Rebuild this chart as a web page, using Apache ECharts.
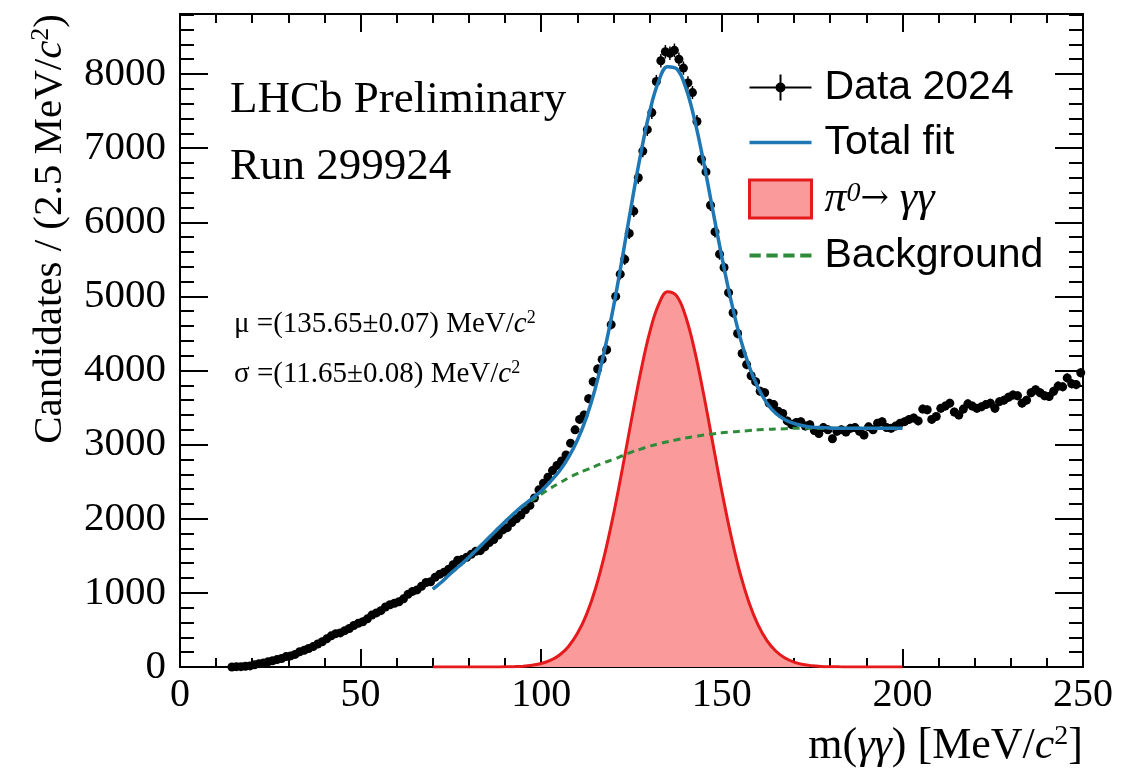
<!DOCTYPE html>
<html>
<head>
<meta charset="utf-8">
<script src="https://cdn.jsdelivr.net/npm/echarts@6/dist/echarts.min.js"></script>
<style>
    html, body { margin: 0; padding: 0; background: #fff; }
    #chart { width: 1132px; height: 770px; }
</style>
</head>
<body>
<div id="chart"></div>
<script>
// histogram: first bin centre and bin width (MeV/c^2)
var binStart = 14.375;
var binWidth = 1.25;
var counts = [
    0, 5, 5, 10, 15, 30, 45, 55, 70, 85,
    100, 115, 140, 150, 170, 205, 225, 250, 275, 310,
    340, 380, 420, 450, 460, 490, 520, 560, 590, 610,
    650, 700, 730, 760, 810, 840, 860, 880, 920, 980,
    1020, 1040, 1090, 1140, 1150, 1210, 1250, 1280, 1320, 1380,
    1440, 1450, 1480, 1520, 1560, 1570, 1620, 1680, 1720, 1780,
    1850, 1880, 1950, 2000, 2050, 2120, 2180, 2280, 2390, 2480,
    2560, 2650, 2720, 2780, 2860, 3020, 3200, 3340, 3400, 3620,
    3850, 4020, 4150, 4280, 4620, 5000, 5300, 5500, 5850, 6150,
    6600, 6960, 7250, 7480, 7900, 8180, 8300, 8280, 8320, 8200,
    8080, 7880, 7750, 7360, 6850, 6680, 6230, 5870, 5570, 5390,
    5050, 4780, 4500, 4230, 4080, 3930, 3850, 3720, 3700, 3560,
    3540, 3450, 3420, 3320, 3270, 3300, 3310, 3250, 3270, 3190,
    3150, 3230, 3200, 3080, 3180, 3200, 3170, 3220, 3230, 3180,
    3130, 3240, 3200, 3290, 3310, 3230, 3220, 3250, 3290, 3310,
    3340, 3360, 3320, 3480, 3470, 3340, 3380, 3490, 3520, 3560,
    3440, 3400, 3480, 3550, 3520, 3490, 3510, 3540, 3560, 3490,
    3580, 3600, 3640, 3670, 3660, 3560, 3600, 3700, 3740, 3700,
    3660, 3650, 3720, 3790, 3780, 3900, 3820, 3810, 3970
];

// fit curves sampled every 2.5 MeV/c^2 from 70 to 200
var fitStart = 70;
var fitStep = 2.5;
var totalFit = [
    1050, 1150, 1265, 1370, 1480, 1600, 1720, 1840, 1960, 2075,
    2180, 2275, 2375, 2500, 2640, 2825, 3060, 3365, 3765, 4265,
    4855, 5530, 6240, 6910, 7485, 7900, 8100, 8070, 7820, 7375,
    6805, 6165, 5535, 4955, 4455, 4065, 3770, 3560, 3420, 3335,
    3285, 3255, 3235, 3230, 3225, 3220, 3220, 3220, 3220, 3220,
    3220, 3220, 3220
];
var signalFit = [
    0, 0, 0, 0, 0, 0, 0, 1, 2, 5,
    11, 24, 47, 89, 159, 274, 451, 704, 1053, 1506,
    2057, 2681, 3338, 3968, 4507, 4888, 5062, 5006, 4729, 4266,
    3673, 3022, 2373, 1783, 1276, 874, 571, 356, 212, 121,
    66, 34, 17, 8, 4, 2, 1, 0, 0, 0,
    0, 0, 0
];
var backgroundFit = [
    1050, 1150, 1265, 1370, 1480, 1600, 1720, 1840, 1960, 2070,
    2170, 2250, 2330, 2410, 2480, 2550, 2610, 2660, 2710, 2760,
    2800, 2850, 2900, 2940, 2980, 3010, 3040, 3065, 3090, 3110,
    3130, 3145, 3160, 3170, 3180, 3190, 3200, 3205, 3210, 3215,
    3220, 3220, 3220, 3220, 3220, 3220, 3220, 3220, 3220, 3220,
    3220, 3220, 3220
];

// axes
var xMin = 0, xMax = 250, xStep = 50;
var yMin = 0, yMax = 8810, yStep = 1000, yMinorStep = 200;

var legendNames = ["Data 2024", "Total fit", "π0→ γγ", "Background"];
var fitText = [
    "{n|μ =(135.65±0.07) MeV/}{i|c}{s|2}",
    "{n|σ =(11.65±0.08) MeV/}{i|c}{s|2}",
];

var serif = "Liberation Serif";
var sans = "Liberation Sans";

var dataPts = counts.map(function (c, i) {
    return [binStart + i * binWidth, c];
});
var errPts = counts.map(function (c, i) {
    return [binStart + i * binWidth, c, c - Math.sqrt(c), c + Math.sqrt(c)];
});
function curve(vals) {
    return vals.map(function (v, i) {
        return [fitStart + i * fitStep, v];
    });
}

var richSmall = {
    n: { fontFamily: serif, fontSize: 29, color: "#000" },
    i: { fontFamily: serif, fontSize: 29, fontStyle: "italic", color: "#000" },
    s: { fontFamily: serif, fontSize: 18, color: "#000", verticalAlign: "top", lineHeight: 18 },
};
var richBig = {
    n: { fontFamily: serif, fontSize: 41, color: "#000", lineHeight: 44 },
    i: { fontFamily: serif, fontSize: 41, fontStyle: "italic", color: "#000", lineHeight: 44 },
    s: { fontFamily: serif, fontSize: 26, color: "#000", verticalAlign: "top", lineHeight: 26 },
};
var richX = {
    n: { fontFamily: serif, fontSize: 44, color: "#000", lineHeight: 46 },
    i: { fontFamily: serif, fontSize: 44, fontStyle: "italic", color: "#000", lineHeight: 46 },
    s: { fontFamily: serif, fontSize: 28, color: "#000", verticalAlign: "top", lineHeight: 28 },
};

function renderErr(params, api) {
    var x = api.value(0);
    var y = api.value(1);
    var lo = api.coord([x, api.value(2)]);
    var hi = api.coord([x, api.value(3)]);
    var l = api.coord([x - binWidth / 2, y]);
    var r = api.coord([x + binWidth / 2, y]);
    return {
        type: "group",
        children: [
            { type: "line", shape: { x1: lo[0], y1: lo[1], x2: hi[0], y2: hi[1] }, style: { stroke: "#000", lineWidth: 1.5 } },
            { type: "line", shape: { x1: l[0], y1: l[1], x2: r[0], y2: r[1] }, style: { stroke: "#000", lineWidth: 1.5 } },
        ],
    };
}

function xAxisOpt(pos, labels) {
    return {
        type: "value",
        position: pos,
        min: xMin,
        max: xMax,
        interval: xStep,
        axisLine: { show: true, onZero: false, lineStyle: { color: "#000", width: 2 } },
        axisTick: { show: true, inside: true, length: 18, lineStyle: { color: "#000", width: 2 } },
        minorTick: { show: true, splitNumber: 5, length: 9, lineStyle: { color: "#000", width: 2 } },
        axisLabel: { show: labels, color: "#000", fontFamily: serif, fontSize: 40, margin: 8,
            formatter: function (v) { return String(v); } },
        splitLine: { show: false },
    };
}

function yAxisOpt(pos, step, len, labels) {
    return {
        type: "value",
        position: pos,
        min: yMin,
        max: yMax,
        interval: step,
        axisLine: { show: true, onZero: false, lineStyle: { color: "#000", width: 2 } },
        axisTick: { show: true, inside: true, length: len, lineStyle: { color: "#000", width: 2 } },
        axisLabel: { show: labels, color: "#000", fontFamily: serif, fontSize: 41, margin: 14, showMaxLabel: false,
            formatter: function (v) { return String(v); } },
        splitLine: { show: false },
    };
}

var xMain = xAxisOpt("bottom", true);
xMain.name = "{n|m(}{i|γγ}{n|) [MeV/}{i|c}{s|2}{n|]}";
xMain.nameLocation = "end";
xMain.nameGap = 0;
xMain.nameTextStyle = { align: "right", verticalAlign: "top", padding: [56, 0, 0, 0], rich: richX };

var option = {
    animation: false,
    grid: { left: 180, right: 49, top: 14, bottom: 103 },
    xAxis: [xMain, xAxisOpt("top", false)],
    yAxis: [
        yAxisOpt("left", yStep, 28, true),
        yAxisOpt("left", yMinorStep, 14, false),
        yAxisOpt("right", yStep, 28, false),
        yAxisOpt("right", yMinorStep, 14, false),
    ],
    legend: {
        orient: "vertical",
        left: 743,
        top: 62,
        itemWidth: 62,
        itemHeight: 38,
        itemGap: 14,
        selectedMode: false,
        textStyle: { fontFamily: sans, fontSize: 41, color: "#000", lineHeight: 38, padding: [0, 0, 0, 8],
            rich: {
                it: { fontFamily: serif, fontSize: 44, fontStyle: "italic", color: "#000", lineHeight: 38 },
                sup: { fontFamily: serif, fontSize: 28, fontStyle: "italic", color: "#000", verticalAlign: "top", lineHeight: 22 },
                ar: { fontFamily: "DejaVu Serif", fontSize: 34, color: "#000", lineHeight: 38 },
            },
        },
        formatter: function (name) {
            if (name === legendNames[2]) return "{it|π}{sup|0}{ar|→ }{it|γγ}";
            return name;
        },
        data: [
            { name: legendNames[0], icon: "path://M0,12H62V14H0Z M30,0H32V26H30Z M36,13A5,5,0,1,1,26,13A5,5,0,1,1,36,13Z",
              itemStyle: { color: "#000", borderWidth: 0, opacity: 1 } },
            { name: legendNames[1], icon: "path://M0,0H62V3.5H0Z", itemStyle: { color: "#1f77b4", borderWidth: 0 } },
            { name: legendNames[2], icon: "path://M0,0H62V38H0Z", itemStyle: { color: "#fa9a9a", borderColor: "#e41a1c", borderWidth: 3 } },
            { name: legendNames[3], icon: "path://M0,0H10V3.5H0Z M15,0H25V3.5H15Z M30,0H40V3.5H30Z M45,0H55V3.5H45Z",
              itemStyle: { color: "#2e8b3a", borderWidth: 0 } },
        ],
    },
    graphic: [
        { type: "text", x: 230, y: 100, style: { text: "LHCb Preliminary", fontFamily: serif, fontSize: 45, fill: "#000", verticalAlign: "middle" } },
        { type: "text", x: 230, y: 167, style: { text: "Run 299924", fontFamily: serif, fontSize: 45, fill: "#000", verticalAlign: "middle" } },
        { type: "text", x: 234, y: 324, style: { text: fitText[0], rich: richSmall, verticalAlign: "middle" } },
        { type: "text", x: 234, y: 374, style: { text: fitText[1], rich: richSmall, verticalAlign: "middle" } },
        { type: "text", x: 50, y: 14, rotation: Math.PI / 2,
          style: { text: "{n|Candidates / (2.5 MeV/}{i|c}{s|2}{n|)}", rich: richBig, align: "right", verticalAlign: "middle" } },
    ],
    series: [
        {
            name: legendNames[2],
            type: "line",
            data: curve(signalFit),
            smooth: 0.4,
            symbol: "none",
            lineStyle: { color: "#e41a1c", width: 3 },
            itemStyle: { color: "#e41a1c" },
            areaStyle: { color: "#fa9a9a", opacity: 1 },
            z: 2,
        },
        {
            type: "custom",
            renderItem: renderErr,
            data: errPts,
            silent: true,
            z: 3,
        },
        {
            name: legendNames[0],
            type: "scatter",
            data: dataPts,
            symbol: "circle",
            symbolSize: 9,
            itemStyle: { color: "#000", opacity: 1 },
            z: 3,
        },
        {
            name: legendNames[3],
            type: "line",
            data: curve(backgroundFit),
            smooth: 0.4,
            symbol: "none",
            lineStyle: { color: "#2e8b3a", width: 3, type: [7, 5] },
            itemStyle: { color: "#2e8b3a" },
            z: 4,
        },
        {
            name: legendNames[1],
            type: "line",
            data: curve(totalFit),
            smooth: 0.4,
            symbol: "none",
            lineStyle: { color: "#1f77b4", width: 3.5 },
            itemStyle: { color: "#1f77b4" },
            z: 5,
        },
    ],
};

var myChart = echarts.init(document.getElementById("chart"));
option && myChart.setOption(option);
</script>
</body>
</html>
